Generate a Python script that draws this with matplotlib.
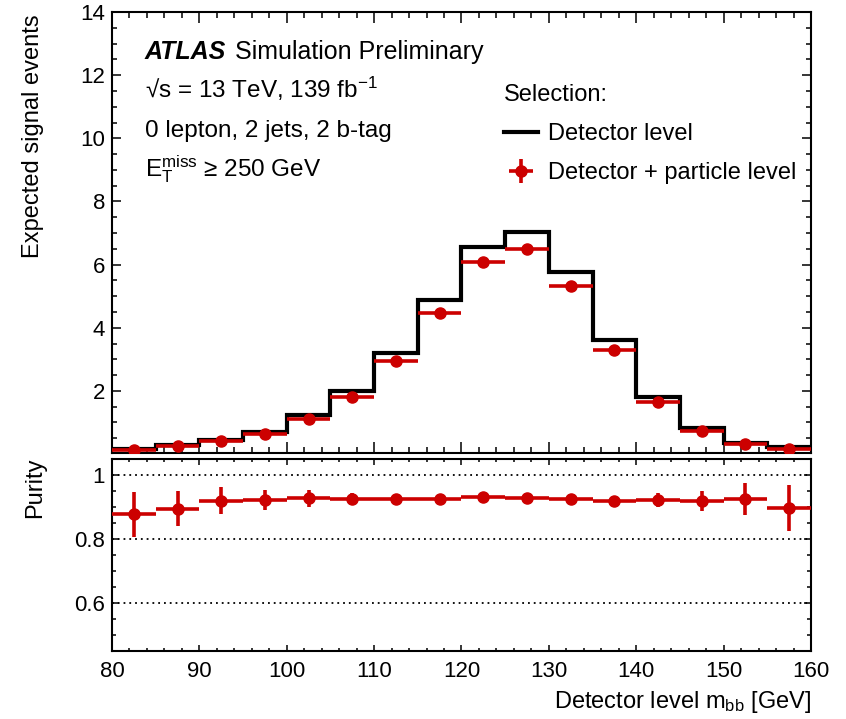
import numpy as np
import matplotlib
matplotlib.use("Agg")
import matplotlib.pyplot as plt
from matplotlib.lines import Line2D
from matplotlib.ticker import MultipleLocator, FixedLocator

plt.rcParams['font.family'] = ['Liberation Sans', 'DejaVu Sans']
plt.rcParams['mathtext.fontset'] = 'custom'
plt.rcParams['mathtext.rm'] = 'Liberation Sans'
plt.rcParams['mathtext.it'] = 'Liberation Sans:italic'
plt.rcParams['mathtext.bf'] = 'Liberation Sans:bold'
plt.rcParams['mathtext.default'] = 'rm'

# m_bb binning [GeV]
bin_edges = np.arange(80, 161, 5)

# Expected signal events, detector-level selection
detector_level = [0.16, 0.29, 0.45, 0.70, 1.23, 1.99, 3.19, 4.87,
                  6.56, 7.03, 5.78, 3.61, 1.81, 0.81, 0.35, 0.21]
# Expected signal events, detector + particle level selection
det_particle_level = [0.14, 0.25, 0.40, 0.64, 1.12, 1.81, 2.95, 4.47,
                      6.09, 6.50, 5.33, 3.31, 1.66, 0.74, 0.33, 0.16]

# Purity per bin and its uncertainty
purity = [0.877, 0.895, 0.920, 0.922, 0.927, 0.925, 0.924, 0.926,
          0.930, 0.927, 0.924, 0.920, 0.921, 0.918, 0.925, 0.898]
purity_err = [0.070, 0.054, 0.042, 0.032, 0.026, 0.020, 0.015, 0.012,
              0.012, 0.010, 0.012, 0.012, 0.022, 0.032, 0.050, 0.072]

purity_guides = [0.6, 0.8, 1.0]

RED = '#cc0000'
FS = 16        # tick labels
FT = 17        # axis titles and legend
FA = 17.5      # annotation block

centers = 0.5 * (bin_edges[:-1] + bin_edges[1:])
half_width = 0.5 * np.diff(bin_edges)

fig = plt.figure(figsize=(8.46, 7.19), dpi=100)
ax1 = fig.add_axes([0.1324, 0.3700, 0.8262, 0.6133])
ax2 = fig.add_axes([0.1324, 0.0946, 0.8262, 0.2670], sharex=ax1)

# --- upper panel: event yields ---
ax1.stairs(detector_level, bin_edges, baseline=None, color='black', lw=3.0, zorder=2)
ax1.errorbar(centers, det_particle_level, xerr=half_width, fmt='o', color=RED,
             ms=8, elinewidth=2.6, capsize=0, zorder=3)
ax1.set_xlim(80, 160)
ax1.set_ylim(0.035, 14)
ax1.yaxis.set_major_locator(FixedLocator([2, 4, 6, 8, 10, 12, 14]))
ax1.yaxis.set_minor_locator(MultipleLocator(0.5))
ax1.xaxis.set_major_locator(MultipleLocator(10))
ax1.xaxis.set_minor_locator(MultipleLocator(2))
ax1.tick_params(axis='x', which='both', labelbottom=False)

# --- lower panel: purity ---
for g in purity_guides:
    ax2.axhline(g, color='black', lw=1.3, ls=(0, (1, 2.2)), zorder=1)
eb = ax2.errorbar(centers, purity, xerr=half_width, yerr=purity_err, fmt='o',
                  color=RED, ms=8, elinewidth=2.6, capsize=0, zorder=3)
ax2.set_ylim(0.45, 1.05)
ax2.yaxis.set_major_locator(FixedLocator([0.6, 0.8, 1.0]))
ax2.set_yticklabels(['0.6', '0.8', '1'])
ax2.yaxis.set_minor_locator(MultipleLocator(0.05))
ax2.set_xticks(np.arange(80, 161, 10))

for ax in (ax1, ax2):
    for s in ax.spines.values():
        s.set_linewidth(1.5)
    ax.tick_params(which='both', direction='in', top=True, right=True,
                   width=1.1, labelsize=FS, pad=5)

ax1.tick_params(axis='x', which='major', length=8)
ax1.tick_params(axis='x', which='minor', length=4)
ax1.tick_params(axis='y', which='major', length=6.5)
ax1.tick_params(axis='y', which='minor', length=3.6)
ax2.tick_params(axis='x', which='major', length=4.5)
ax2.tick_params(axis='x', which='minor', length=2.3)
ax2.tick_params(axis='y', which='major', length=5)
ax2.tick_params(axis='y', which='minor', length=3)
ax2.tick_params(axis='x', pad=7)

# axis titles
fig.text(33 / 846, 1 - 14 / 719, 'Expected signal events', rotation=90,
         ha='center', va='top', fontsize=FT)
fig.text(35 / 846, 1 - 457 / 719, 'Purity', rotation=90,
         ha='center', va='top', fontsize=FT)
fig.text(811 / 846, 1 - 708 / 719, r'Detector level m$_{\mathregular{bb}}$ [GeV]',
         ha='right', va='baseline', fontsize=FT)

# labels
tx = 145 / 846
atl = fig.text(tx, 1 - 52 / 719, 'ATLAS', fontsize=FA + 0.5, fontweight='bold',
               style='italic', va='center', ha='left')
fig.canvas.draw()
atl_end = atl.get_window_extent().x1 / fig.bbox.width
fig.text(atl_end + 9 / 846, 1 - 52 / 719, 'Simulation Preliminary', fontsize=FA + 0.5,
         va='center', ha='left')
fig.text(tx, 1 - 89 / 719, '\u221as = 13 TeV, 139 fb$^{\\mathregular{-1}}$',
         fontsize=FA, va='center', ha='left')
fig.text(tx, 1 - 131 / 719, '0 lepton, 2 jets, 2 b-tag',
         fontsize=FA, va='center', ha='left')
fig.text(tx, 1 - 169 / 719, 'E$_{\\mathregular{T}}^{\\mathregular{miss}}$ \u2265 250 GeV',
         fontsize=FA, va='center', ha='left')

# legend
black_handle = Line2D([], [], color='black', lw=3.0)
leg = ax1.legend([black_handle, eb], ['Detector level', 'Detector + particle level'],
                 title='Selection:', loc='upper left',
                 bbox_to_anchor=(504 / 846, 1 - 84 / 719),
                 bbox_transform=fig.transFigure, frameon=False,
                 fontsize=FT, title_fontsize=FT, alignment='left',
                 handlelength=1.45, handletextpad=0.4, labelspacing=0.72,
                 borderpad=0.0, borderaxespad=0.0)

fig.savefig('out.png', dpi=100, facecolor='white')
